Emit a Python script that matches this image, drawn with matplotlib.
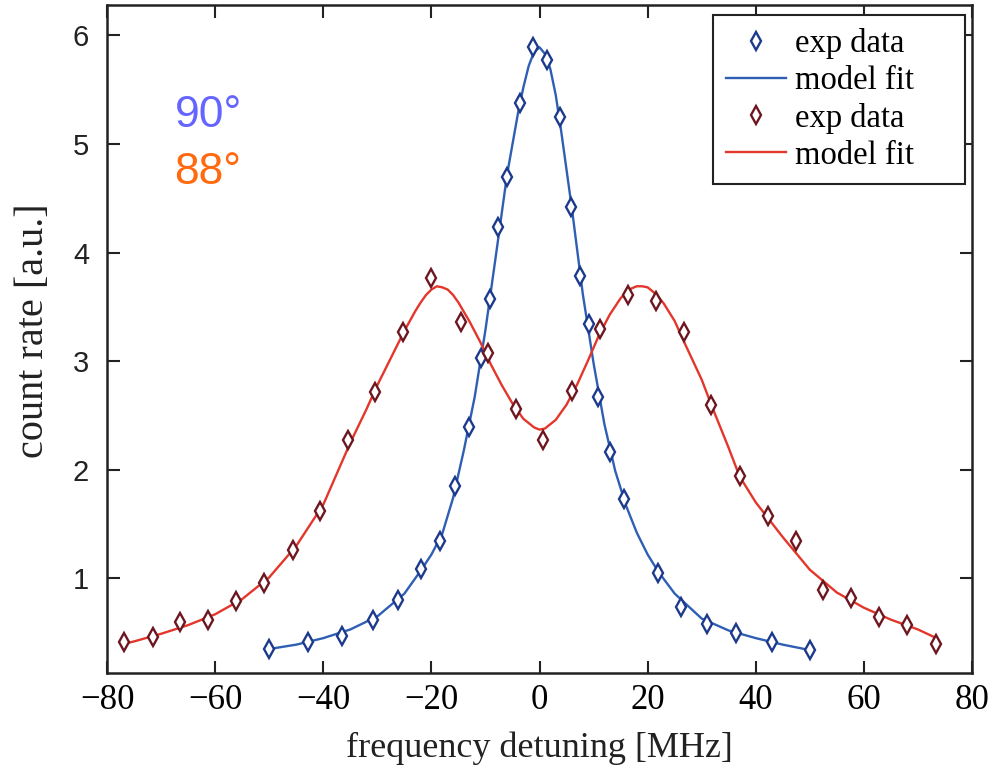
import numpy as np
import matplotlib
matplotlib.use('Agg')
import matplotlib.pyplot as plt
from matplotlib.lines import Line2D

# ------------------------------------------------------------------
# dados
# ------------------------------------------------------------------
# 90 graus (azul)
x_exp_90 = [-50.0, -42.8, -36.5, -30.9, -26.1, -22.0, -18.5, -15.6, -13.1, -10.8,
            -9.1, -7.6, -6.1, -3.7, -1.3, 1.3, 3.7, 5.9, 7.4, 9.1,
            10.9, 13.0, 15.6, 22.0, 26.1, 30.9, 36.4, 43.0, 50.0]
y_exp_90 = [0.35, 0.41, 0.47, 0.62, 0.80, 1.09, 1.34, 1.85, 2.39, 3.03,
            3.57, 4.24, 4.70, 5.38, 5.89, 5.77, 5.25, 4.42, 3.78, 3.34,
            2.67, 2.16, 1.73, 1.05, 0.74, 0.58, 0.50, 0.41, 0.34]

x_fit_90 = [-50, -45, -40, -35, -30, -25, -22, -20, -18, -16, -14, -12, -10, -8,
            -6, -4, -3, -2, -1, 0, 1, 2, 3, 4, 6, 8, 10, 12, 14, 16, 18, 20, 22,
            25, 30, 35, 40, 45, 50]
y_fit_90 = [0.35, 0.39, 0.45, 0.53, 0.65, 0.86, 1.07, 1.22, 1.41, 1.74, 2.18, 2.67,
            3.29, 4.00, 4.72, 5.28, 5.52, 5.72, 5.85, 5.89, 5.83, 5.69, 5.45, 5.12,
            4.40, 3.62, 2.98, 2.42, 1.99, 1.67, 1.42, 1.22, 1.06,
            0.86, 0.63, 0.52, 0.45, 0.39, 0.34]

# 88 graus (vermelho)
x_exp_88 = [-76.9, -71.6, -66.5, -61.3, -56.1, -50.9, -45.7, -40.6, -35.5, -30.4,
            -25.2, -20.0, -14.6, -9.6, -4.3, 0.7, 6.0, 11.1, 16.4, 21.5,
            26.7, 31.8, 37.0, 42.2, 47.4, 52.5, 57.6, 62.8, 68.0, 73.3]
y_exp_88 = [0.41, 0.46, 0.60, 0.62, 0.79, 0.96, 1.26, 1.62, 2.27, 2.72,
            3.27, 3.77, 3.36, 3.08, 2.56, 2.27, 2.73, 3.30, 3.61, 3.55,
            3.27, 2.60, 1.94, 1.57, 1.34, 0.89, 0.82, 0.64, 0.57, 0.40]

x_fit_88 = [-77.4, -75, -70, -65, -60, -55, -50, -45, -40, -35, -32, -30, -27, -25,
            -23, -22, -21, -20, -19, -18, -17, -16, -15, -13, -11, -9, -7, -5, -3,
            -1, 0, 1, 3, 5, 7, 9, 11, 13, 15, 16, 17, 18, 19, 20, 21, 22, 23, 25,
            27, 30, 32, 35, 37, 40, 45, 50, 55, 60, 65, 70, 73]
y_fit_88 = [0.39, 0.42, 0.49, 0.57, 0.67, 0.81, 1.01, 1.30, 1.68, 2.25, 2.56, 2.78,
            3.08, 3.28, 3.46, 3.54, 3.61, 3.66, 3.69, 3.68, 3.66, 3.61, 3.54, 3.37,
            3.18, 2.97, 2.78, 2.61, 2.47, 2.39, 2.37, 2.38, 2.46, 2.60, 2.79, 3.01,
            3.24, 3.43, 3.58, 3.63, 3.67, 3.69, 3.69, 3.68, 3.64, 3.59, 3.53, 3.37,
            3.15, 2.83, 2.57, 2.20, 1.94, 1.70, 1.38, 1.08, 0.87, 0.73, 0.62, 0.53,
            0.46]

x_ticks = [-80, -60, -40, -20, 0, 20, 40, 60, 80]
y_ticks = [1, 2, 3, 4, 5, 6]

# ------------------------------------------------------------------
# cores / fontes
# ------------------------------------------------------------------
cor_az_linha = '#2F5FB5'
cor_az_marc = '#1C3A8C'
cor_vm_linha = '#E3372C'
cor_vm_marc = '#6E1620'
serif = 'Liberation Serif'
sans = 'Liberation Sans'

fig = plt.figure(figsize=(10.01, 7.69), dpi=100)
ax = fig.add_axes([0.107, 0.125, 0.864, 0.8685])

ax.plot(x_fit_90, y_fit_90, color=cor_az_linha, lw=1.7, zorder=2)
ax.plot(x_fit_88, y_fit_88, color=cor_vm_linha, lw=1.7, zorder=2)
ax.plot(x_exp_90, y_exp_90, ls='none', marker='d', ms=9, mfc='white',
        mec=cor_az_marc, mew=1.7, zorder=3)
ax.plot(x_exp_88, y_exp_88, ls='none', marker='d', ms=9, mfc='white',
        mec=cor_vm_marc, mew=1.7, zorder=3)

ax.set_xlim(-80, 80)
ax.set_ylim(0.13, 6.28)
ax.set_xticks(x_ticks)
ax.set_yticks(y_ticks)
ax.set_xticklabels([f'\u2212{abs(v)}' if v < 0 else str(v) for v in x_ticks],
                   fontfamily=serif, fontsize=25)
ax.set_yticklabels([str(v) for v in y_ticks], fontfamily=sans, fontsize=21,
                   color='#222222')
ax.tick_params(direction='in', top=True, right=True, length=9, width=1.5,
               color='#222222')
ax.tick_params(axis='x', pad=8)
ax.tick_params(axis='y', pad=13)
for sp in ax.spines.values():
    sp.set_linewidth(1.8)
    sp.set_color('#222222')

ax.set_xlabel('frequency detuning [MHz]', fontfamily=serif, fontsize=26,
              color='#222222')
ax.set_ylabel('count rate [a.u.]', fontfamily=serif, fontsize=29,
              color='#222222')
ax.xaxis.set_label_coords(0.5, -0.088)
ax.yaxis.set_label_coords(-0.064, 0.513)

# anotacoes dos angulos
ax.text(0.078, 0.817, '90°', transform=ax.transAxes, fontfamily=sans,
        fontsize=32, color='#6464FF', ha='left', va='baseline')
ax.text(0.078, 0.732, '88°', transform=ax.transAxes, fontfamily=sans,
        fontsize=32, color='#FF6A10', ha='left', va='baseline')

handles = [
    Line2D([], [], ls='none', marker='d', ms=9, mfc='white', mec=cor_az_marc, mew=1.7),
    Line2D([], [], color=cor_az_linha, lw=1.7),
    Line2D([], [], ls='none', marker='d', ms=9, mfc='white', mec=cor_vm_marc, mew=1.7),
    Line2D([], [], color=cor_vm_linha, lw=1.7),
]
labels = ['exp data', 'model fit', 'exp data', 'model fit']
leg = ax.legend(handles, labels, loc='upper left',
                bbox_to_anchor=(0.7006, 0.5, 0.2913, 0.485), mode='expand',
                prop={'family': serif, 'size': 23.5}, frameon=True, fancybox=False,
                edgecolor='#222222', framealpha=1.0, handlelength=1.85,
                handletextpad=0.25, labelspacing=0.2, borderpad=0.4,
                borderaxespad=0.0)
leg.get_frame().set_linewidth(1.5)

fig.savefig('out.png', dpi=100)
